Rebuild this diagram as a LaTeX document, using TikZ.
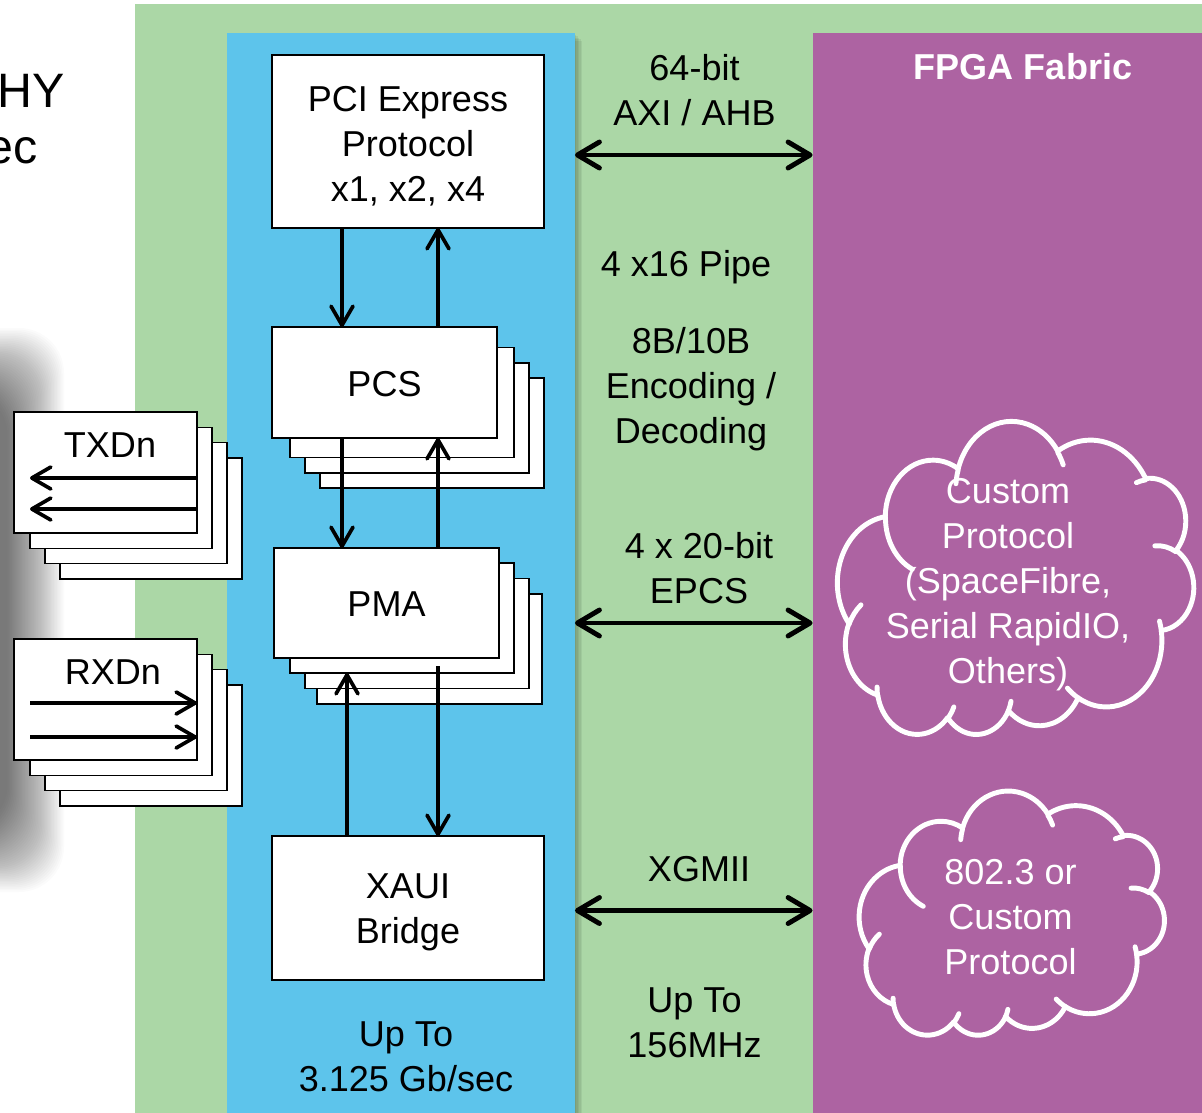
\documentclass[tikz,border=0pt]{standalone}
\usepackage{fontspec}
\setmainfont{Liberation Sans}
\usetikzlibrary{arrows.meta}
\definecolor{panelgreen}{HTML}{ABD7A6}
\definecolor{laneblue}{HTML}{5DC4EB}
\definecolor{fabricpurple}{HTML}{AD63A2}
\newcommand\lblfont{\fontsize{20.5pt}{25.6pt}\selectfont}
\tikzset{
  % elliptical arc given by radii and visual start/sweep angles (degrees)
  pp/.style n args={4}{insert path={arc[start angle={atan2((#1)*sin(#3),(#2)*cos(#3))},
     delta angle={mod(atan2((#1)*sin((#3)+(#4)),(#2)*cos((#3)+(#4)))-atan2((#1)*sin(#3),(#2)*cos(#3))+720,360)},
     x radius=#1, y radius=#2]}},
  blk/.style={draw=black, line width=1.1pt, fill=white, inner sep=0pt, outer sep=0pt,
     align=center, font=\lblfont},
  lbl/.style={font=\lblfont, align=center, inner sep=0pt},
  varrow/.style={line width=2.1pt, -{Straight Barb[length=3.8mm,width=4.4mm,round]}},
  harrow/.style={line width=2.8pt,
     {Straight Barb[length=4.4mm,width=5.2mm,round]}-{Straight Barb[length=4.4mm,width=5.2mm,round]}},
  cloudline/.style={draw=white, line width=2.8pt, line cap=round, line join=round},
}
% cloud outline with its inner curls, in a 432 x 432 box
\newcommand\cloudoutline{%
  \path[cloudline] (39.00,143.70) [pp={67.53}{91.90}{-190.4875}{123.7805}]
    [pp={53.33}{72.67}{-144.1024}{89.9452}]
    [pp={43.65}{59.45}{-145.8079}{99.7230}]
    [pp={48.57}{65.95}{-130.9861}{117.2417}]
    [pp={53.33}{72.73}{-78.7089}{109.0269}]
    [pp={67.75}{92.20}{-46.2673}{130.2690}]
    [pp={57.85}{78.67}{0.6250}{114.0333}]
    [pp={67.52}{92.15}{22.4516}{115.1726}]
    [pp={77.20}{105.43}{66.2426}{75.7110}]
    [pp={43.60}{59.18}{-274.9421}{146.7356}]
    [pp={43.45}{59.45}{-246.8285}{152.5189}] -- cycle;
  \path[cloudline]
    (46.93,261.77) [pp={43.45}{59.45}{86.742}{26.4295}]
    (69.28,348.99) [pp={43.60}{59.18}{73.6105}{11.4475}]
    (164.78,390.90) [pp={67.52}{92.15}{137.6242}{14.0811}]
    (288.27,347.51) [pp={67.52}{92.15}{6.4533}{15.9984}]
    (341.29,229.54) [pp={57.85}{78.67}{-70.2924}{70.9174}]
    (417.98,153.54) [pp={53.33}{72.73}{30.3180}{27.7515}]
    (383.24,54.26) [pp={48.57}{65.95}{-13.7443}{14.8589}]
    (290.78,39.52) [pp={48.57}{65.95}{-149.1815}{18.1954}]
    (221.41,47.20) [pp={43.65}{59.45}{-163.4943}{17.6864}]
    (140.00,51.92) [pp={67.53}{91.90}{-66.7070}{12.3194}]
    (41.27,157.89) [pp={67.53}{91.90}{157.6544}{11.8582}];
}
\begin{document}
\begin{tikzpicture}[x=0.02cm,y=-0.02cm]
\path[use as bounding box, fill=white] (0,0) rectangle (1202,1112);

% soft shadow along the left edge
\foreach \i in {0,...,39}
  \fill[black, opacity=0.015, rounded corners=0.9cm] (-300,328+1.6*\i) rectangle (64-1.45*\i,892-1.6*\i);

% background panels
\fill[panelgreen] (135,4) rectangle (1210,1120);
\foreach \i in {1,...,5}
  \fill[black, opacity=0.06] (227,33+1.5*\i) rectangle (575+1.4*\i,1120);
\node[fill=laneblue, inner sep=0pt, outer sep=0pt, minimum width=6.96cm, minimum height=21.74cm]
  (lane) at (401,576.5) {};
\node[fill=fabricpurple, inner sep=0pt, outer sep=0pt, minimum width=7.9cm, minimum height=21.74cm]
  (fabric) at (1010,576.5) {};

% heading fragments at the left edge
\node[anchor=base east, inner sep=0pt, font=\fontsize{27.5pt}{33pt}\selectfont] (hy) at (65,107) {HY};
\node[anchor=base east, inner sep=0pt, font=\fontsize{27.5pt}{33pt}\selectfont] (ec) at (38,163) {ec};

% transceiver lanes
\node[blk, minimum width=3.64cm, minimum height=2.42cm] (tx4) at (151,518.5) {};
\node[blk, minimum width=3.64cm, minimum height=2.42cm] (tx3) at (136,503) {};
\node[blk, minimum width=3.64cm, minimum height=2.42cm] (tx2) at (121,488) {};
\node[blk, minimum width=3.66cm, minimum height=2.42cm] (tx) at (105.5,472.5) {};
\node[lbl] (txl) at (110,445) {TXDn};
\node[blk, minimum width=3.64cm, minimum height=2.42cm] (rx4) at (151,745.5) {};
\node[blk, minimum width=3.64cm, minimum height=2.42cm] (rx3) at (136,730) {};
\node[blk, minimum width=3.64cm, minimum height=2.42cm] (rx2) at (121,715) {};
\node[blk, minimum width=3.66cm, minimum height=2.42cm] (rx) at (105.5,699.5) {};
\node[lbl] (rxl) at (113,672) {RXDn};

\coordinate (t1) at (30,478);
\coordinate (t2) at (30,509);
\coordinate (r1) at (30,703);
\coordinate (r2) at (30,737);
\draw[varrow] (tx.east |- t1) -- (t1);
\draw[varrow] (tx.east |- t2) -- (t2);
\draw[varrow] (r1) -- (rx.east |- r1);
\draw[varrow] (r2) -- (rx.east |- r2);

% protocol stack
\node[blk, minimum width=5.44cm, minimum height=3.46cm] (pci) at (408,141.5) {};
\node[lbl] (pcil) at (408,146.5) {PCI Express\\Protocol\\x1, x2, x4};

\node[blk, minimum width=4.48cm, minimum height=2.2cm] (pcs4) at (432,433) {};
\node[blk, minimum width=4.48cm, minimum height=2.2cm] (pcs3) at (417,418) {};
\node[blk, minimum width=4.48cm, minimum height=2.2cm] (pcs2) at (402,402.5) {};
\node[blk, minimum width=4.5cm, minimum height=2.22cm] (pcs) at (384.5,382.5) {};
\node[lbl] (pcsl) at (384.5,384) {PCS};

\node[blk, minimum width=4.5cm, minimum height=2.2cm] (pma4) at (429.5,649) {};
\node[blk, minimum width=4.48cm, minimum height=2.2cm] (pma3) at (417,633.5) {};
\node[blk, minimum width=4.48cm, minimum height=2.2cm] (pma2) at (402,618) {};
\node[blk, minimum width=4.5cm, minimum height=2.2cm] (pma) at (386.5,603) {};
\node[lbl] (pmal) at (386.5,604.5) {PMA};

\node[blk, minimum width=5.44cm, minimum height=2.88cm] (xaui) at (408,908) {};
\node[lbl] (xauil) at (408,912.5) {XAUI\\Bridge};

\coordinate (xa) at (342,0);
\coordinate (xb) at (438,0);
\coordinate (xc) at (347,0);
\draw[varrow] (pci.south -| xa) -- (pcs.north -| xa);
\draw[varrow] (pcs.north -| xb) -- (pci.south -| xb);
\draw[varrow] (pcs.south -| xa) -- (pma.north -| xa);
\draw[varrow] (pma.north -| xb) -- (pcs.south -| xb);
\draw[varrow] (xaui.north -| xc) -- (pma2.south -| xc);
\draw[varrow] ([yshift=0.14cm]pma2.south -| xb) -- (xaui.north -| xb);

\node[lbl] (rate) at (406,1056.5) {Up To\\3.125 Gb/sec};

% interface column
\node[lbl] (axi) at (694.5,90) {64-bit\\AXI / AHB};
\node[lbl] (pipe) at (686,267) {4 x16 Pipe};
\node[lbl] (enc) at (691,389) {8B/10B\\Encoding /\\Decoding};
\node[lbl] (epcs) at (699,568) {4 x 20-bit\\EPCS};
\node[lbl] (xgmii) at (699,869.5) {XGMII};
\node[lbl] (clk) at (694.5,1022.5) {Up To\\156MHz};

\coordinate (h1) at (0,155);
\coordinate (h2) at (0,623);
\coordinate (h3) at (0,910.5);
\draw[harrow] (lane.east |- h1) -- (fabric.west |- h1);
\draw[harrow] (lane.east |- h2) -- (fabric.west |- h2);
\draw[harrow] (lane.east |- h3) -- (fabric.west |- h3);

% fabric side
\node[lbl, text=white, font=\lblfont\bfseries] (fab) at (1023,67) {FPGA Fabric};

\begin{scope}[shift={(1193.5,735.5)}, xscale=-0.8241, yscale=-0.7245]
  \cloudoutline
\end{scope}
\node[lbl, text=white] (cloudA) at (1008,584.5) {Custom\\Protocol\\(SpaceFibre,\\Serial RapidIO,\\Others)};

\begin{scope}[shift={(1164.2,1036)}, xscale=-0.706, yscale=-0.565]
  \cloudoutline
\end{scope}
\node[lbl, text=white] (cloudB) at (1010.5,917) {802.3 or\\Custom\\Protocol};
\end{tikzpicture}
\end{document}
